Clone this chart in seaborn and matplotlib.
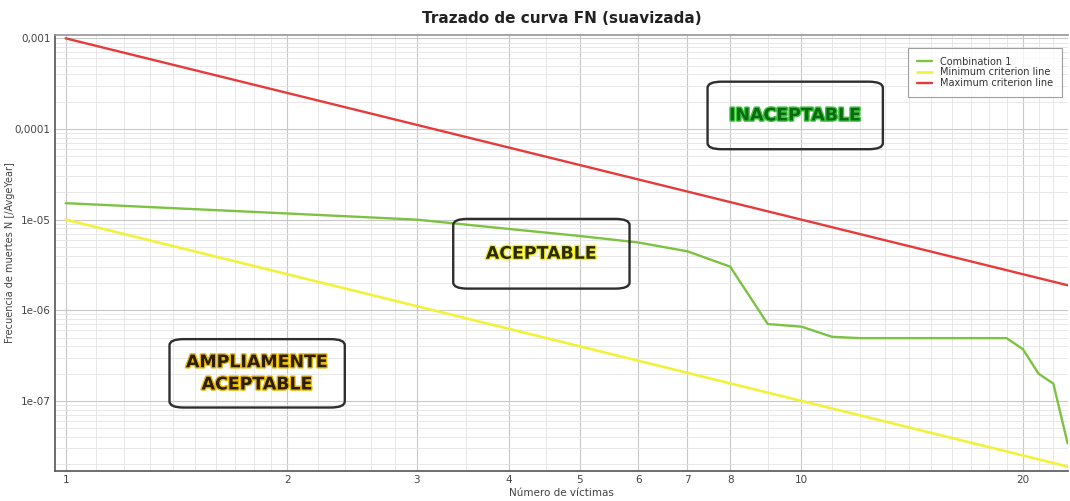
import numpy as np
import pandas as pd
import matplotlib
matplotlib.use("Agg")
import matplotlib.pyplot as plt
import matplotlib.ticker as mticker
import matplotlib.patheffects as pe
from matplotlib.patches import FancyBboxPatch
from matplotlib import font_manager
import seaborn as sns

# ── data ────────────────────────────────────────────
victims_combo = [1, 2, 3, 4, 5, 6, 7, 8, 9, 10, 11, 12, 19, 20, 21, 22, 23]
freq_combo = [1.52e-5, 1.17e-5, 1.0e-5, 7.9e-6, 6.6e-6, 5.6e-6, 4.47e-6, 3.03e-6,
              7.05e-7, 6.6e-7, 5.1e-7, 4.93e-7, 4.93e-7, 3.72e-7, 2.0e-7, 1.55e-7, 3.4e-8]

victims_crit = [1, 23]
freq_min = [1e-5, 1.89e-8]
freq_max = [1e-3, 1.89e-6]

x_ticks = [1, 2, 3, 4, 5, 6, 7, 8, 10, 20]
y_ticks = [1e-7, 1e-6, 1e-5, 1e-4, 1e-3]
y_tick_labels = ["1e-07", "1e-06", "1e-05", "0,0001", "0,001"]

zones = ["INACEPTABLE", "ACEPTABLE", "AMPLIAMENTE\nACEPTABLE"]

# ── style ───────────────────────────────────────────
sns.set_theme(style="whitegrid")
plt.rcParams["font.family"] = ["DejaVu Sans"]

# pick a narrow bold face for the zone labels, if one is installed
installed = {f.name for f in font_manager.fontManager.ttflist}
narrow = [n for n in ["Liberation Sans Narrow", "DejaVu Sans Condensed"] if n in installed]
zone_family = narrow[:1] + ["DejaVu Sans"]
zone_size = 14 if narrow else 12.5

GREEN = "#7dc242"
YELLOW = "#f2f23c"
RED = "#e53b3b"

fig = plt.figure(figsize=(10.7, 5.01), dpi=100)
ax = fig.add_axes([0.0514, 0.0605, 0.947, 0.8695])

sns.lineplot(x=victims_combo, y=freq_combo, color=GREEN, lw=1.7,
             label="Combination 1", ax=ax)
sns.lineplot(x=victims_crit, y=freq_min, color=YELLOW, lw=1.9,
             label="Minimum criterion line", ax=ax)
sns.lineplot(x=victims_crit, y=freq_max, color=RED, lw=1.7,
             label="Maximum criterion line", ax=ax)

ax.set_xscale("log")
ax.set_yscale("log")
ax.set_xlim(0.967, 23.05)
ax.set_ylim(1.7e-8, 1.087e-3)

ax.xaxis.set_major_locator(mticker.FixedLocator(x_ticks))
ax.xaxis.set_major_formatter(mticker.FixedFormatter([str(t) for t in x_ticks]))
minor_x = list(np.arange(1.1, 2.0, 0.1)) + [2.2, 2.4, 2.6, 2.8, 3.5, 4.5, 9] \
    + list(range(11, 20)) + [21, 22, 23]
ax.xaxis.set_minor_locator(mticker.FixedLocator(minor_x))
ax.xaxis.set_minor_formatter(mticker.NullFormatter())

ax.yaxis.set_major_locator(mticker.FixedLocator(y_ticks))
ax.yaxis.set_major_formatter(mticker.FixedFormatter(y_tick_labels))
ax.yaxis.set_minor_locator(mticker.LogLocator(base=10, subs=np.arange(2, 10), numticks=20))
ax.yaxis.set_minor_formatter(mticker.NullFormatter())

ax.grid(which="major", color="#c8c8c8", lw=0.8)
ax.grid(which="minor", color="#e4e4e4", lw=0.6)
ax.set_axisbelow(True)

ax.tick_params(axis="both", which="major", labelsize=7.5, labelcolor="#444444",
               length=0, pad=3)
for side in ["left", "bottom"]:
    ax.spines[side].set_color("#555555")
    ax.spines[side].set_linewidth(1.2)
ax.spines["top"].set_color("#999999")
ax.spines["right"].set_visible(False)

ax.set_title("Trazado de curva FN (suavizada)", fontsize=11, fontweight="bold",
             color="#222222", pad=9)
ax.set_xlabel("Número de víctimas", fontsize=7.5, color="#444444", labelpad=2)
ax.set_ylabel("Frecuencia de muertes N [/AvgeYear]", fontsize=7, color="#444444")
ax.yaxis.set_label_coords(-0.039, 0.5)

leg = ax.legend(loc="upper right", fontsize=7, frameon=True, fancybox=False,
                borderpad=0.9, handlelength=1.6, labelspacing=0.1,
                bbox_to_anchor=(0.9985, 0.982))
leg.get_frame().set_edgecolor("#888888")
leg.get_frame().set_linewidth(0.8)
for t in leg.get_texts():
    t.set_color("#333333")

# ── zone labels (boxes in axes fraction) ────────────
boxes = [
    (0.644, 0.738, 0.817, 0.893),
    (0.393, 0.418, 0.567, 0.578),
    (0.113, 0.145, 0.286, 0.302),
]
text_styles = [
    ("#0c6a12", "#3cc63c"),
    ("#2b2a05", "#f3f02a"),
    ("#2a1d00", "#e8b90a"),
]
for label, (x0, y0, x1, y1), (fc, glow) in zip(zones, boxes, text_styles):
    patch = FancyBboxPatch((x0, y0), x1 - x0, y1 - y0,
                           boxstyle="round,pad=0,rounding_size=0.014",
                           transform=ax.transAxes, fill=False,
                           edgecolor="#2e2e2e", lw=1.7, zorder=4)
    ax.add_patch(patch)
    ax.text((x0 + x1) / 2, (y0 + y1) / 2, label, transform=ax.transAxes,
            ha="center", va="center", fontsize=zone_size, fontweight="bold",
            family=zone_family, color=fc, linespacing=1.3, zorder=5,
            path_effects=[pe.withStroke(linewidth=2, foreground=glow)])

fig.savefig("out.png", dpi=100)
